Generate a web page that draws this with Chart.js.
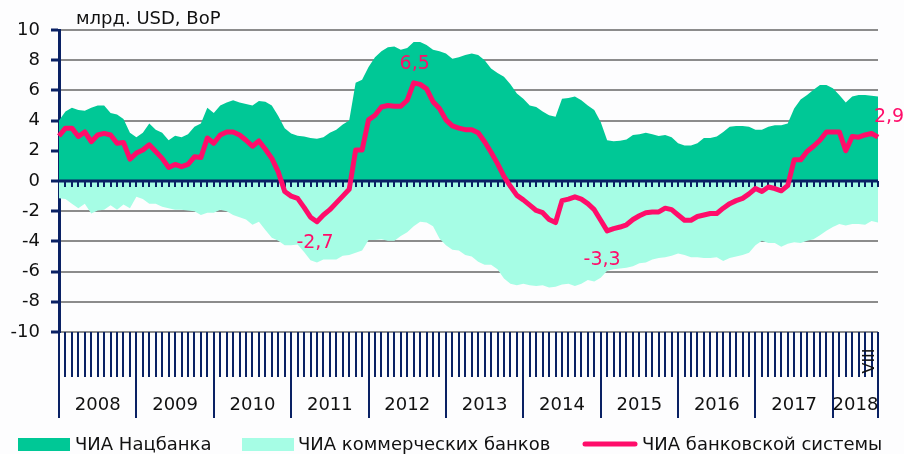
<!DOCTYPE html>
<html lang="ru">
<head>
<meta charset="utf-8">
<title>ЧИА банковской системы</title>
<script src="https://cdn.jsdelivr.net/npm/chart.js@4.4.1/dist/chart.umd.min.js"></script>
<style>
  html, body { margin: 0; padding: 0; background: #fdfdfe; }
  canvas { display: block; }
</style>
</head>
<body>
<canvas id="nfa-chart" width="904" height="454"></canvas>
<script>
// Monthly net foreign assets, Jan 2008 - Aug 2018, bn USD
const years = ['2008', '2009', '2010', '2011', '2012', '2013', '2014', '2015', '2016', '2017', '2018'];
const lastMonthLabel = 'VIII';
const unitLabel = 'млрд. USD, BoP';
const seriesNames = ['ЧИА Нацбанка', 'ЧИА коммерческих банков', 'ЧИА банковской системы'];

const nbuNfa = [
  4.0, 4.6, 4.85, 4.7, 4.65, 4.85, 5.0, 5.0, 4.5, 4.4, 4.1, 3.2,
  2.9, 3.2, 3.8, 3.4, 3.2, 2.7, 3.0, 2.9, 3.1, 3.6, 3.8, 4.85,
  4.5, 5.0, 5.2, 5.35, 5.2, 5.1, 5.0, 5.3, 5.25, 5.0, 4.3, 3.5,
  3.15, 3.0, 2.95, 2.85, 2.8, 2.9, 3.2, 3.4, 3.75, 4.0, 6.5, 6.7,
  7.55, 8.2, 8.6, 8.85, 8.9, 8.7, 8.8, 9.2, 9.2, 9.0, 8.7, 8.6,
  8.45, 8.1, 8.2, 8.35, 8.45, 8.35, 8.0, 7.45, 7.15, 6.9, 6.4, 5.8,
  5.45, 5.0, 4.9, 4.6, 4.35, 4.25, 5.45, 5.5, 5.6, 5.35, 5.0, 4.7,
  3.9, 2.7, 2.63, 2.67, 2.75, 3.05, 3.1, 3.2, 3.1, 2.98, 3.05, 2.9,
  2.5, 2.35, 2.35, 2.5, 2.85, 2.85, 2.95, 3.25, 3.6, 3.65, 3.65, 3.6,
  3.4, 3.4, 3.6, 3.7, 3.7, 3.8, 4.8, 5.4, 5.7, 6.05, 6.35, 6.35,
  6.15, 5.7, 5.2, 5.6, 5.7, 5.7, 5.65, 5.6
];

const bankNfa = [
  -1.15, -1.2, -1.5, -1.8, -1.5, -2.15, -1.95, -1.9, -1.6, -1.9, -1.55, -1.8,
  -1.05, -1.2, -1.5, -1.5, -1.7, -1.8, -1.9, -1.9, -1.95, -2.0, -2.25, -2.1,
  -2.1, -1.9, -2.0, -2.25, -2.4, -2.55, -2.9, -2.7, -3.25, -3.75, -3.95, -4.25,
  -4.25, -4.2, -4.7, -5.25, -5.4, -5.2, -5.2, -5.2, -4.95, -4.9, -4.75, -4.6,
  -3.9, -3.9, -3.85, -3.95, -3.95, -3.65, -3.4, -3.0, -2.7, -2.75, -3.0, -3.8,
  -4.25, -4.55, -4.6, -4.9, -5.0, -5.35, -5.55, -5.55, -5.85, -6.45, -6.8, -6.9,
  -6.8, -6.9, -6.95, -6.9, -7.05, -7.0, -6.85, -6.8, -6.95, -6.8, -6.55, -6.65,
  -6.4, -5.95, -5.85, -5.8, -5.75, -5.65, -5.45, -5.4, -5.2, -5.1, -5.05, -4.95,
  -4.8, -4.9, -5.05, -5.05, -5.1, -5.1, -5.05, -5.3, -5.1, -5.0, -4.9, -4.75,
  -4.25, -3.95, -4.1, -4.1, -4.35, -4.15, -4.05, -4.1, -3.95, -3.85, -3.6, -3.3,
  -3.05, -2.85, -2.95, -2.85, -2.85, -2.9, -2.65, -2.75
];

const systemNfa = [
  2.98, 3.5, 3.5, 2.95, 3.25, 2.6, 3.05, 3.15, 3.05, 2.5, 2.55, 1.45,
  1.85, 2.05, 2.4, 1.95, 1.5, 0.9, 1.1, 0.95, 1.1, 1.6, 1.55, 2.85,
  2.5, 3.05, 3.25, 3.25, 3.05, 2.7, 2.3, 2.65, 2.1, 1.5, 0.6, -0.7,
  -1.0, -1.15, -1.75, -2.4, -2.7, -2.25, -1.9, -1.45, -1.0, -0.55, 2.05, 2.05,
  4.05, 4.35, 4.9, 5.0, 4.95, 4.95, 5.35, 6.5, 6.4, 6.1, 5.25, 4.8,
  4.05, 3.65, 3.5, 3.4, 3.4, 3.2, 2.6, 1.9, 1.15, 0.3, -0.35, -0.95,
  -1.25, -1.6, -1.95, -2.1, -2.55, -2.75, -1.3, -1.2, -1.05, -1.2, -1.5, -1.9,
  -2.6, -3.3, -3.15, -3.05, -2.9, -2.55, -2.3, -2.1, -2.05, -2.05, -1.8, -1.9,
  -2.25, -2.6, -2.6, -2.35, -2.25, -2.15, -2.15, -1.8, -1.5, -1.3, -1.15, -0.85,
  -0.5, -0.7, -0.4, -0.5, -0.65, -0.3, 1.4, 1.4, 1.95, 2.3, 2.7, 3.25,
  3.25, 3.25, 2.0, 2.95, 2.9, 3.05, 3.15, 2.9
];

// months of the system line that carry a value label
const labelledMonths = [40, 55, 85, 127];

const yTicks = [-10, -8, -6, -4, -2, 0, 2, 4, 6, 8, 10];

// one category per month
const months = [];
years.forEach((y, k) => {
  const count = Math.min(12, systemNfa.length - k * 12);
  for (let m = 1; m <= count; m++) months.push(y + '-' + String(m).padStart(2, '0'));
});

const NAVY = '#0a2164';
const GREEN = '#00c896';
const AQUA = '#a6fde5';
const PINK = '#ff0d6a';
const FONT = "'DejaVu Sans', Verdana, sans-serif";

// offsets of the value labels from their points
const labelOffsets = { 40: [-2, 21], 55: [1, -19], 85: [-5, 29], 127: [11, -20] };

const decorations = {
  id: 'decorations',
  beforeDatasetDraw(chart, args) {
    // zero axis sits above the areas but under the system line
    if (args.index !== 2) return;
    const { ctx, scales: { x, y } } = chart;
    const y0 = Math.round(y.getPixelForValue(0));
    ctx.save();
    ctx.strokeStyle = NAVY;
    ctx.lineWidth = 3;
    ctx.beginPath();
    ctx.moveTo(x.left, y0);
    ctx.lineTo(x.right, y0);
    ctx.stroke();
    ctx.lineWidth = 2;
    ctx.beginPath();
    for (let i = 1; i < months.length; i++) {
      const px = Math.round(x.getPixelForValue(i));
      ctx.moveTo(px, y0);
      ctx.lineTo(px, y0 + 6);
    }
    ctx.stroke();
    ctx.restore();
  },
  afterDraw(chart) {
    const { ctx, scales: { x, y } } = chart;
    const bottom = y.bottom;
    ctx.save();

    // monthly ticks and year separators under the plot
    ctx.strokeStyle = NAVY;
    ctx.lineWidth = 2;
    ctx.beginPath();
    for (let i = 0; i < months.length; i++) {
      const px = Math.round(x.getPixelForValue(i));
      const isEdge = i % 12 === 0 || i === months.length - 1;
      ctx.moveTo(px, bottom);
      ctx.lineTo(px, bottom + (isEdge ? 86 : 45));
    }
    ctx.stroke();

    // year names
    ctx.fillStyle = '#111';
    ctx.font = '18px ' + FONT;
    ctx.textAlign = 'center';
    ctx.textBaseline = 'middle';
    years.forEach((yr, k) => {
      const a = x.getPixelForValue(k * 12);
      const b = x.getPixelForValue(Math.min(k * 12 + 12, months.length - 1));
      ctx.fillText(yr, (a + b) / 2, bottom + 73);
    });

    // last month marker
    ctx.save();
    ctx.translate(x.getPixelForValue(months.length - 1) - 8, bottom + 29);
    ctx.rotate(-Math.PI / 2);
    ctx.font = '16px ' + FONT;
    ctx.fillText(lastMonthLabel, 0, 0);
    ctx.restore();

    // value labels on the system line
    ctx.fillStyle = PINK;
    ctx.font = '19px ' + FONT;
    labelledMonths.forEach(i => {
      const v = systemNfa[i];
      const [dx, dy] = labelOffsets[i];
      const text = v.toFixed(1).replace('.', ',');
      ctx.fillText(text, x.getPixelForValue(i) + dx, y.getPixelForValue(v) + dy);
    });

    // unit caption
    ctx.fillStyle = '#111';
    ctx.font = '18px ' + FONT;
    ctx.textAlign = 'left';
    ctx.fillText(unitLabel, 76, 19);

    // legend
    const ly = 444;
    ctx.fillStyle = GREEN;
    ctx.fillRect(18, ly - 6, 52, 13);
    ctx.fillStyle = AQUA;
    ctx.fillRect(242, ly - 6, 52, 13);
    ctx.strokeStyle = PINK;
    ctx.lineWidth = 5;
    ctx.lineCap = 'round';
    ctx.beginPath();
    ctx.moveTo(585, ly);
    ctx.lineTo(635, ly);
    ctx.stroke();
    ctx.fillStyle = '#111';
    ctx.fillText(seriesNames[0], 75, ly + 1);
    ctx.fillText(seriesNames[1], 298, ly + 1);
    ctx.fillText(seriesNames[2], 642, ly + 1);

    ctx.restore();
  }
};

new Chart(document.getElementById('nfa-chart'), {
  type: 'line',
  data: {
    labels: months,
    datasets: [
      {
        label: seriesNames[0],
        data: nbuNfa,
        backgroundColor: GREEN,
        borderWidth: 0,
        pointRadius: 0,
        fill: 'origin',
        order: 1
      },
      {
        label: seriesNames[1],
        data: bankNfa,
        backgroundColor: AQUA,
        borderWidth: 0,
        pointRadius: 0,
        fill: 'origin',
        order: 1
      },
      {
        label: seriesNames[2],
        data: systemNfa,
        borderColor: PINK,
        borderWidth: 5,
        borderJoinStyle: 'round',
        pointRadius: 0,
        fill: false,
        order: 0
      }
    ]
  },
  options: {
    responsive: false,
    animation: false,
    devicePixelRatio: 1,
    layout: { padding: { top: 30, right: 26, bottom: 122, left: 0 } },
    scales: {
      x: {
        display: false,
        offset: false
      },
      y: {
        min: -10,
        max: 10,
        afterFit(scale) { scale.width = 59; },
        afterBuildTicks(scale) { scale.ticks = yTicks.map(v => ({ value: v })); },
        border: { display: true, color: NAVY, width: 3 },
        grid: {
          color: ctx => (ctx.tick && ctx.tick.value === 0 ? 'rgba(0,0,0,0)' : '#8c8c8c'),
          lineWidth: 2,
          tickLength: 8,
          tickColor: NAVY,
          tickWidth: 3
        },
        ticks: {
          color: '#111',
          font: { family: FONT, size: 18 },
          padding: 11
        }
      }
    },
    plugins: {
      legend: { display: false },
      tooltip: { enabled: false }
    }
  },
  plugins: [decorations]
});
</script>
</body>
</html>
